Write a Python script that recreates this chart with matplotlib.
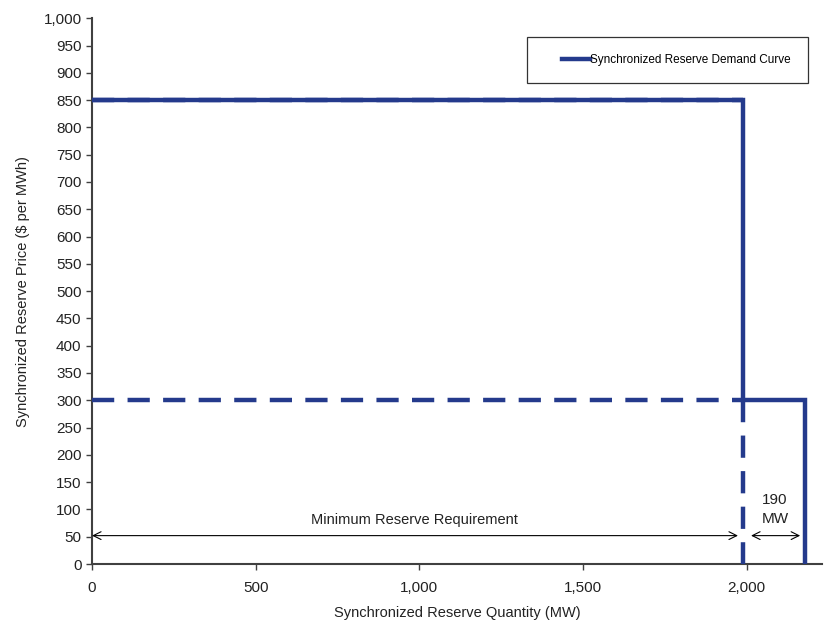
import matplotlib
matplotlib.use("Agg")
import matplotlib.pyplot as plt
from matplotlib.patches import Rectangle
from matplotlib.ticker import FuncFormatter, MultipleLocator

plt.rcParams['font.family'] = ['Liberation Sans', 'DejaVu Sans']

# Demand curve step points (MW, $/MWh)
curve_x = [0, 1988, 1988, 2178, 2178]
curve_y = [850, 850, 300, 300, 0]

# Dashed guide lines
min_req_mw = 1988
step_mw = 190
high_price = 850
low_price = 300

color = '#243a8c'

fig = plt.figure(figsize=(8.24, 6.23), dpi=100)
ax = fig.add_axes([0.1117, 0.0947, 0.886, 0.876])

ax.plot(curve_x, curve_y, color=color, lw=3.2, solid_joinstyle='miter',
        label='Synchronized Reserve Demand Curve', zorder=3)
ax.plot([0, min_req_mw], [high_price, high_price], color=color, lw=3.2,
        dashes=(5, 3), zorder=4)
ax.plot([0, min_req_mw], [low_price, low_price], color=color, lw=3.2,
        dashes=(5, 3), zorder=4)
ax.plot([min_req_mw, min_req_mw], [low_price, 0], color=color, lw=3.2,
        dashes=(5, 3), zorder=4)

# Annotation arrows
ax.annotate('', xy=(0, 52), xytext=(min_req_mw - 15, 52),
            arrowprops=dict(arrowstyle='<->', color='black', lw=0.8,
                            mutation_scale=14, shrinkA=0, shrinkB=0))
ax.annotate('', xy=(min_req_mw + 25, 52), xytext=(min_req_mw + step_mw - 15, 52),
            arrowprops=dict(arrowstyle='<->', color='black', lw=0.8,
                            mutation_scale=14, shrinkA=0, shrinkB=0))
ax.text(985, 80, 'Minimum Reserve Requirement', ha='center', va='center',
        fontsize=10.5, color='#222222')
ax.text(min_req_mw + step_mw / 2 + 3, 100, '190\nMW', ha='center', va='center',
        fontsize=11, color='#222222', linespacing=1.45)

ax.set_xlim(0, 2230)
ax.set_ylim(0, 1000)
ax.yaxis.set_major_locator(MultipleLocator(50))
ax.xaxis.set_major_locator(MultipleLocator(500))
fmt = FuncFormatter(lambda v, p: f'{int(v):,}')
ax.xaxis.set_major_formatter(fmt)
ax.yaxis.set_major_formatter(fmt)

for s in ['top', 'right']:
    ax.spines[s].set_visible(False)
for s in ['left', 'bottom']:
    ax.spines[s].set_color('#404040')
    ax.spines[s].set_linewidth(1.5)
ax.tick_params(axis='both', colors='#404040', labelcolor='#222222',
               labelsize=11, length=4, width=1)
ax.tick_params(axis='x', pad=8)

ax.set_xlabel('Synchronized Reserve Quantity (MW)', fontsize=10.5,
              color='#222222', labelpad=8)
ax.set_ylabel('Synchronized Reserve Price ($ per MWh)', fontsize=10.5,
              color='#222222', labelpad=10)

# Legend box drawn separately so its padding can be wider on the left
ax.add_patch(Rectangle((0.596, 0.881), 0.385, 0.084, transform=ax.transAxes,
                       facecolor='white', edgecolor='#333333', lw=0.9,
                       zorder=5, clip_on=False))
leg = ax.legend(loc='center right', bbox_to_anchor=(0.957, 0.923),
                fontsize=8.5, handlelength=2.4, handletextpad=0.0,
                borderpad=0, borderaxespad=0, frameon=False)
leg.set_zorder(6)

fig.savefig('out.png', dpi=100)
